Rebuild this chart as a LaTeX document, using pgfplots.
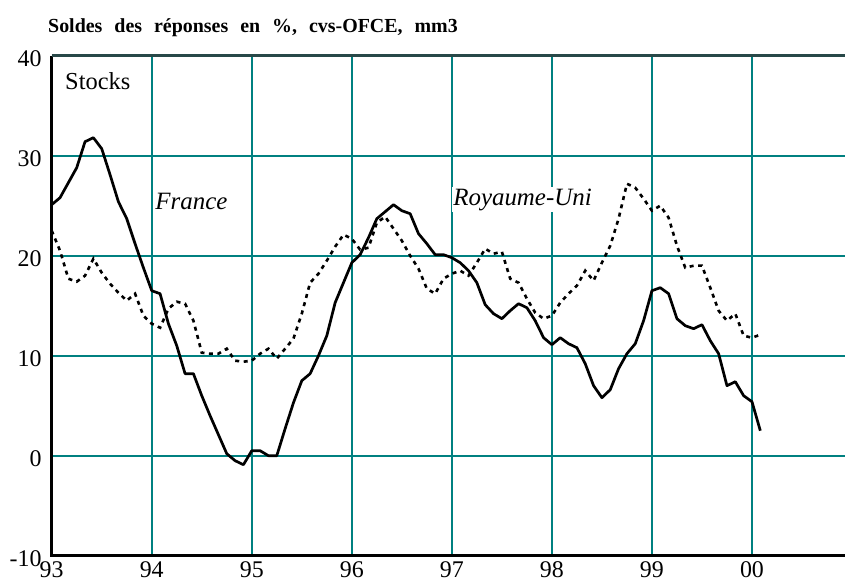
\documentclass[border=0pt]{standalone}
\usepackage{pgfplots}
\usepackage{pgfplotstable}
\usepackage{fontspec}
\setmainfont{Liberation Serif}
\pgfplotsset{compat=1.18}
\definecolor{gridteal}{RGB}{0,128,128}
\definecolor{topline}{RGB}{40,72,72}
\pgfplotstableread{
m fr uk
0 25.1 22.5
1 25.8 20.5
2 27.3 17.7
3 28.8 17.4
4 31.4 18.0
5 31.8 19.7
6 30.7 18.3
7 28.1 17.2
8 25.4 16.3
9 23.7 15.5
10 21.2 16.2
11 18.8 14.0
12 16.5 13.2
13 16.2 12.8
14 13.2 14.7
15 11.0 15.4
16 8.2 15.2
17 8.2 13.5
18 6.0 10.3
19 4.0 10.2
20 2.1 10.2
21 0.2 10.7
22 -0.5 9.5
23 -0.9 9.4
24 0.5 9.5
25 0.5 10.2
26 0.0 10.7
27 0.0 9.7
28 2.7 10.7
29 5.3 11.7
30 7.5 14.2
31 8.2 17.3
32 10.0 18.2
33 12.0 19.5
34 15.3 20.9
35 17.3 22.1
36 19.3 21.7
37 20.1 20.6
38 21.8 20.8
39 23.7 23.3
40 24.4 23.9
41 25.1 22.7
42 24.5 21.5
43 24.2 20.0
44 22.2 18.7
45 21.2 16.7
46 20.1 16.2
47 20.1 17.7
48 19.8 18.2
49 19.3 18.5
50 18.5 18.0
51 17.3 19.3
52 15.1 20.7
53 14.2 20.2
54 13.7 20.4
55 14.5 17.7
56 15.2 17.3
57 14.8 15.7
58 13.5 14.3
59 11.8 13.7
60 11.1 14.0
61 11.8 15.3
62 11.2 16.2
63 10.8 17.0
64 9.2 18.5
65 7.0 17.5
66 5.8 19.3
67 6.6 21.0
68 8.7 23.7
69 10.2 27.2
70 11.2 26.8
71 13.5 25.7
72 16.5 24.5
73 16.8 25.0
74 16.2 23.8
75 13.7 21.0
76 13.0 18.8
77 12.7 19.0
78 13.1 19.0
79 11.5 16.8
80 10.2 14.5
81 7.0 13.5
82 7.4 14.2
83 6.0 12.0
84 5.4 11.8
85 2.5 12.1
}\data
\begin{document}
\begin{tikzpicture}
\begin{axis}[
  scale only axis,
  width=793.3bp, height=500bp,
  xmin=93, xmax=100.93, ymin=-10, ymax=40,
  clip=false,
  axis line style={draw=none},
  xtick={93,94,95,96,97,98,99,100},
  xticklabels={93,94,95,96,97,98,99,00},
  ytick={-10,0,10,20,30,40},
  yticklabels={-10,0,10,20,30,40},
  xmajorgrids=true, ymajorgrids=true,
  grid style={draw=gridteal, line width=1.7bp},
  major grid style={draw=gridteal, line width=1.7bp},
  xtick style={draw=none},
  ytick style={draw=none},
  ticklabel style={font=\fontsize{24}{28}\selectfont},
  yticklabel style={anchor=east, inner sep=0pt, xshift=-10bp, yshift=-3bp},
  xticklabel style={anchor=north, inner sep=0pt, yshift=-6bp},
]
\addplot[black, line width=2.7bp, line join=round] table[x expr=93+\thisrow{m}/12, y=fr] {\data};
\addplot[black, line width=2.6bp, dash pattern=on 4bp off 4.5bp] table[x expr=93+\thisrow{m}/12, y=uk] {\data};
\draw[line width=3bp, black] (rel axis cs:0,1) -- (rel axis cs:0,0) -- (rel axis cs:1,0);
\draw[line width=2.5bp, topline] (rel axis cs:0,1) -- (rel axis cs:1,1);
\node[anchor=base west, inner sep=0pt, font=\fontsize{24.5}{28}\selectfont] at (axis cs:93.133,36.6) {Stocks};
\node[anchor=base west, fill=white, inner sep=1.5bp, font=\fontsize{25}{28}\selectfont\itshape] at (axis cs:94.02,24.67) {France};
\node[anchor=base west, fill=white, inner sep=1.5bp, font=\fontsize{25}{28}\selectfont\itshape] at (axis cs:96.998,25.07) {Royaume-Uni};
\end{axis}
\node[anchor=base west, inner sep=0pt, font=\fontsize{20}{24}\selectfont\bfseries] at (-3.7bp,522.7bp) {\spaceskip=12bp Soldes des réponses en \%, cvs-OFCE, mm3};
\pgfresetboundingbox
\path (-51.7bp,-26.5bp) rectangle (793.3bp,555.7bp);
\end{tikzpicture}
\end{document}
